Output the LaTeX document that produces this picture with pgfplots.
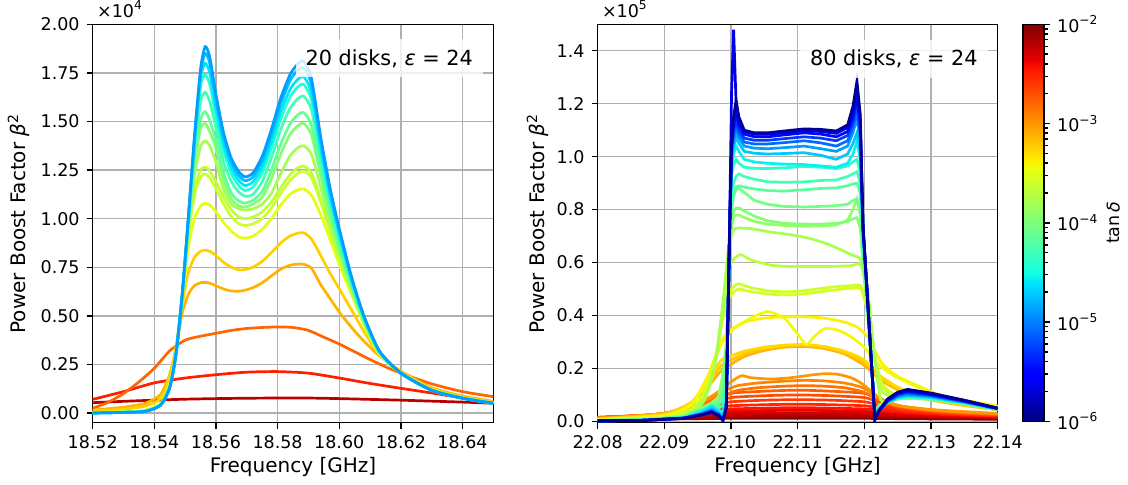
\documentclass[border=0pt]{standalone}
\usepackage{pgfplots}
\pgfplotsset{compat=1.18}
\usepackage{pgfplotstable}
\usepackage{fontspec}
\setmainfont{DejaVu Sans}
\newcommand{\fs}{\fontsize{8.75}{10}\selectfont}
\newcommand{\fl}{\fontsize{10.4}{12}\selectfont}
\definecolor{gridc}{HTML}{B0B0B0}
\pgfplotsset{colormap={mpljet}{rgb(0cm)=(0,0,0.5); rgb(1.1cm)=(0,0,1); rgb(1.25cm)=(0,0,1); rgb(3.4cm)=(0,0.86,1); rgb(3.5cm)=(0,0.9,0.968); rgb(3.75cm)=(0.081,1,0.887); rgb(6.4cm)=(0.935,1,0.032); rgb(6.5cm)=(0.968,0.963,0); rgb(6.6cm)=(1,0.926,0); rgb(8.9cm)=(1,0.074,0); rgb(9.1cm)=(0.909,0,0); rgb(10cm)=(0.5,0,0)}}
\pgfkeys{/pgf/number format/assume math mode=true}
\pgfplotsset{
  base/.style={scale only axis, anchor=south west,
    grid=major, grid style={line width=0.7pt, gridc},
    axis line style={line width=0.7pt},
    tick align=outside, xtick pos=bottom, ytick pos=left,
    major tick length=3pt, tick style={line width=0.7pt, black},
    tick label style={font=\fs}, label style={font=\fs},
    every axis x label/.style={at={(axis description cs:0.5,-0.111)}, anchor=center},
    scaled ticks=false, colormap name=mpljet,
    /pgf/number format/assume math mode=true,
    every axis plot/.append style={line width=1.35pt},
    xticklabel style={/pgf/number format/.cd, fixed, fixed zerofill, precision=2}},
}

% ---------- left panel: 20 disks (units of 1e4) ----------
\pgfplotstableread{
x A B C D E F G H I J K L M
18.520 0.000 0.000 0.000 0.000 0.001 0.001 0.001 0.001 0.001 0.001 0.002 0.010 0.015
18.530 0.003 0.003 0.003 0.003 0.003 0.004 0.004 0.004 0.005 0.005 0.006 0.020 0.030
18.537 0.008 0.008 0.008 0.009 0.009 0.010 0.010 0.011 0.012 0.012 0.014 0.035 0.050
18.542 0.040 0.040 0.040 0.040 0.041 0.042 0.043 0.044 0.046 0.047 0.050 0.075 0.095
18.545 0.130 0.130 0.131 0.132 0.133 0.135 0.137 0.139 0.141 0.143 0.150 0.190 0.200
18.547 0.300 0.300 0.300 0.301 0.302 0.303 0.304 0.305 0.306 0.307 0.310 0.340 0.330
18.549 0.600 0.600 0.600 0.600 0.599 0.598 0.597 0.595 0.592 0.590 0.580 0.550 0.510
18.551 1.000 0.995 0.990 0.980 0.970 0.960 0.950 0.930 0.920 0.910 0.850 0.720 0.610
18.553 1.420 1.410 1.390 1.370 1.340 1.310 1.280 1.220 1.150 1.120 1.000 0.800 0.655
18.555 1.770 1.750 1.720 1.680 1.600 1.510 1.460 1.370 1.250 1.215 1.065 0.832 0.670
18.5565 1.885 1.850 1.800 1.740 1.650 1.550 1.490 1.400 1.265 1.230 1.079 0.838 0.672
18.558 1.830 1.797 1.748 1.690 1.600 1.505 1.446 1.375 1.245 1.210 1.070 0.832 0.668
18.560 1.640 1.610 1.572 1.530 1.470 1.400 1.363 1.290 1.190 1.155 1.035 0.810 0.655
18.5625 1.440 1.415 1.382 1.350 1.290 1.235 1.197 1.150 1.110 1.075 0.980 0.775 0.638
18.565 1.310 1.290 1.262 1.232 1.190 1.130 1.100 1.075 1.045 1.010 0.935 0.750 0.628
18.5675 1.240 1.220 1.194 1.168 1.135 1.090 1.065 1.050 1.008 0.973 0.905 0.737 0.627
18.5695 1.215 1.195 1.170 1.145 1.115 1.080 1.060 1.045 1.000 0.965 0.900 0.738 0.632
18.572 1.235 1.214 1.189 1.163 1.125 1.095 1.075 1.050 1.008 0.973 0.910 0.750 0.645
18.575 1.320 1.296 1.265 1.236 1.190 1.140 1.110 1.075 1.035 1.000 0.945 0.780 0.670
18.578 1.460 1.434 1.396 1.364 1.314 1.250 1.205 1.130 1.085 1.055 1.000 0.825 0.705
18.581 1.620 1.590 1.549 1.513 1.458 1.383 1.333 1.231 1.160 1.130 1.070 0.875 0.740
18.584 1.740 1.709 1.664 1.625 1.566 1.486 1.432 1.322 1.225 1.195 1.125 0.910 0.760
18.5865 1.795 1.763 1.716 1.677 1.616 1.533 1.477 1.364 1.260 1.233 1.148 0.925 0.766
18.5885 1.810 1.775 1.730 1.690 1.630 1.545 1.490 1.375 1.270 1.245 1.152 0.927 0.765
18.591 1.720 1.690 1.647 1.612 1.560 1.480 1.430 1.330 1.235 1.210 1.120 0.895 0.745
18.594 1.420 1.396 1.365 1.340 1.310 1.250 1.220 1.160 1.100 1.085 1.020 0.810 0.660
18.597 1.160 1.142 1.120 1.100 1.080 1.040 1.020 0.980 0.950 0.935 0.895 0.720 0.590
18.600 0.950 0.938 0.923 0.910 0.890 0.860 0.845 0.820 0.800 0.790 0.765 0.640 0.520
18.604 0.700 0.695 0.686 0.680 0.670 0.655 0.648 0.640 0.625 0.620 0.610 0.530 0.440
18.608 0.500 0.498 0.494 0.490 0.485 0.480 0.476 0.472 0.465 0.462 0.455 0.420 0.370
18.613 0.320 0.319 0.318 0.316 0.315 0.313 0.312 0.311 0.310 0.310 0.305 0.300 0.295
18.620 0.205 0.205 0.205 0.205 0.205 0.205 0.205 0.205 0.205 0.205 0.205 0.210 0.215
18.630 0.117 0.117 0.117 0.117 0.117 0.118 0.118 0.118 0.118 0.119 0.120 0.125 0.130
18.640 0.076 0.076 0.076 0.076 0.076 0.077 0.077 0.077 0.077 0.077 0.078 0.082 0.087
18.650 0.050 0.050 0.050 0.050 0.050 0.051 0.051 0.051 0.051 0.051 0.052 0.055 0.060
}\lefttab

% ---------- right panel: 80 disks (units of 1e5), low-loss band curves ----------
\pgfplotstableread{
x c1 c2 c3 c4 c5 c6 c7 c8 c9 c10 c11 c12 c13 c14
22.0800 0.002 0.002 0.002 0.002 0.002 0.002 0.002 0.003 0.003 0.003 0.003 0.003 0.003 0.003
22.0870 0.004 0.004 0.004 0.004 0.004 0.004 0.005 0.005 0.005 0.005 0.006 0.006 0.006 0.006
22.0930 0.012 0.012 0.012 0.012 0.012 0.013 0.013 0.014 0.015 0.016 0.017 0.018 0.019 0.020
22.0955 0.024 0.024 0.025 0.026 0.027 0.028 0.030 0.035 0.040 0.040 0.042 0.045 0.048 0.050
22.0971 0.034 0.034 0.036 0.038 0.040 0.045 0.050 0.060 0.055 0.050 0.055 0.060 0.065 0.070
22.0981 0.022 0.022 0.024 0.026 0.028 0.030 0.035 0.040 0.045 0.050 0.060 0.070 0.080 0.090
22.0988 0.003 0.004 0.005 0.006 0.008 0.010 0.015 0.020 0.030 0.060 0.090 0.120 0.150 0.180
22.0993 0.050 0.050 0.050 0.050 0.050 0.060 0.070 0.080 0.100 0.150 0.200 0.250 0.280 0.300
22.0998 0.720 0.750 0.720 0.720 0.720 0.720 0.720 0.720 0.700 0.680 0.660 0.640 0.620 0.600
22.1001 1.050 1.250 1.040 1.030 1.020 1.010 1.000 0.970 0.930 0.860 0.820 0.800 0.760 0.740
22.1004 1.150 1.480 1.120 1.100 1.080 1.060 1.040 1.010 0.970 0.900 0.860 0.850 0.795 0.770
22.10075 1.210 1.220 1.160 1.130 1.110 1.090 1.070 1.040 0.990 0.925 0.885 0.875 0.805 0.780
22.1012 1.150 1.130 1.120 1.100 1.085 1.070 1.050 1.020 0.975 0.935 0.890 0.880 0.806 0.780
22.1020 1.100 1.095 1.085 1.070 1.055 1.040 1.020 0.990 0.960 0.925 0.885 0.865 0.795 0.770
22.1035 1.090 1.085 1.075 1.062 1.048 1.032 1.013 0.980 0.956 0.915 0.878 0.835 0.775 0.755
22.1055 1.090 1.085 1.075 1.062 1.048 1.030 1.010 0.975 0.955 0.905 0.872 0.820 0.758 0.745
22.1080 1.097 1.090 1.082 1.068 1.053 1.034 1.012 0.972 0.958 0.903 0.870 0.812 0.748 0.740
22.1110 1.105 1.098 1.090 1.075 1.060 1.040 1.015 0.970 0.963 0.905 0.875 0.810 0.745 0.737
22.1135 1.103 1.095 1.085 1.070 1.052 1.030 1.005 0.965 0.960 0.910 0.880 0.812 0.745 0.738
22.1158 1.097 1.088 1.075 1.060 1.040 1.020 0.990 0.960 0.955 0.912 0.882 0.815 0.748 0.742
22.1175 1.120 1.110 1.095 1.080 1.060 1.040 1.010 0.975 0.965 0.925 0.890 0.820 0.755 0.760
22.1183 1.190 1.170 1.150 1.130 1.110 1.090 1.050 1.010 0.980 0.935 0.897 0.835 0.765 0.800
22.1189 1.285 1.260 1.230 1.200 1.170 1.146 1.090 1.057 0.990 0.943 0.900 0.840 0.770 0.840
22.1194 1.160 1.140 1.120 1.100 1.080 1.060 1.020 0.990 0.940 0.900 0.860 0.800 0.730 0.780
22.1198 0.740 0.740 0.740 0.740 0.730 0.730 0.720 0.710 0.700 0.690 0.670 0.640 0.600 0.600
22.1204 0.500 0.500 0.500 0.500 0.500 0.500 0.490 0.490 0.480 0.480 0.470 0.460 0.440 0.440
22.1210 0.250 0.250 0.250 0.250 0.250 0.250 0.250 0.250 0.250 0.250 0.240 0.240 0.240 0.240
22.1216 0.005 0.008 0.010 0.012 0.015 0.018 0.020 0.022 0.025 0.028 0.030 0.032 0.035 0.038
22.1222 0.040 0.040 0.040 0.040 0.042 0.044 0.046 0.048 0.050 0.052 0.054 0.056 0.058 0.060
22.1235 0.085 0.083 0.080 0.078 0.076 0.075 0.074 0.073 0.072 0.072 0.072 0.072 0.073 0.074
22.1250 0.110 0.108 0.105 0.102 0.098 0.095 0.092 0.090 0.088 0.087 0.086 0.085 0.085 0.085
22.1265 0.121 0.118 0.114 0.110 0.106 0.102 0.098 0.096 0.094 0.092 0.090 0.089 0.088 0.088
22.1300 0.107 0.105 0.102 0.100 0.097 0.095 0.092 0.090 0.088 0.087 0.085 0.084 0.083 0.083
22.1350 0.080 0.079 0.077 0.076 0.075 0.074 0.072 0.071 0.070 0.070 0.069 0.068 0.068 0.068
22.1400 0.050 0.050 0.049 0.049 0.048 0.048 0.047 0.047 0.046 0.046 0.046 0.045 0.045 0.045
}\bandtab

% ---------- right panel: high-loss flat curves ----------
\pgfplotstableread{
x o4 o5 o6 o7 r1 r2 r3 r4 r5 r6
22.080 0.014 0.015 0.015 0.015 0.014 0.013 0.012 0.011 0.009 0.007
22.088 0.025 0.025 0.024 0.023 0.021 0.019 0.017 0.014 0.011 0.008
22.094 0.045 0.043 0.040 0.036 0.032 0.027 0.022 0.018 0.013 0.010
22.098 0.080 0.072 0.062 0.052 0.043 0.035 0.028 0.021 0.016 0.011
22.100 0.106 0.090 0.074 0.059 0.047 0.038 0.030 0.023 0.017 0.0115
22.105 0.114 0.097 0.080 0.063 0.050 0.041 0.032 0.024 0.0175 0.012
22.110 0.118 0.100 0.082 0.065 0.052 0.042 0.033 0.025 0.018 0.012
22.115 0.114 0.097 0.080 0.063 0.050 0.041 0.032 0.024 0.0175 0.012
22.120 0.106 0.090 0.074 0.059 0.047 0.038 0.030 0.023 0.017 0.0115
22.122 0.085 0.075 0.063 0.052 0.043 0.035 0.028 0.021 0.016 0.011
22.126 0.055 0.050 0.045 0.040 0.034 0.029 0.024 0.019 0.014 0.010
22.132 0.038 0.035 0.032 0.029 0.026 0.022 0.019 0.016 0.012 0.009
22.140 0.027 0.025 0.023 0.021 0.019 0.017 0.015 0.013 0.010 0.008
}\flattab

\begin{document}
\begin{tikzpicture}
%================ LEFT =================
\begin{axis}[base, name=L, at={(46.35pt,30.65pt)}, width=200.3pt, height=199.2pt,
  xmin=18.52, xmax=18.65, ymin=-0.05, ymax=2.0,
  xtick={18.52,18.54,18.56,18.58,18.60,18.62,18.64},
  ytick={0,0.25,0.5,0.75,1,1.25,1.5,1.75,2},
  yticklabel style={/pgf/number format/.cd, fixed, fixed zerofill, precision=2},
  xlabel={Frequency [GHz]},
  ylabel={Power Boost Factor \textit{β}\textsuperscript{2}},
  every axis y label/.style={at={(axis description cs:-0.185,0.5)}, rotate=90, anchor=center},
]
\addplot[color of colormap=950, smooth, tension=0.4] coordinates {(18.52,0.053) (18.53,0.06) (18.54,0.066) (18.55,0.071) (18.56,0.074) (18.57,0.076) (18.58,0.077) (18.59,0.077) (18.60,0.074) (18.61,0.07) (18.62,0.066) (18.63,0.061) (18.64,0.056) (18.65,0.05)};
\addplot[color of colormap=877, smooth, tension=0.4] coordinates {(18.52,0.07) (18.53,0.11) (18.54,0.155) (18.55,0.18) (18.56,0.197) (18.57,0.21) (18.58,0.213) (18.59,0.205) (18.60,0.18) (18.61,0.152) (18.62,0.127) (18.63,0.103) (18.64,0.078) (18.65,0.058)};
\addplot[color of colormap=803, smooth, tension=0.4] coordinates {(18.52,0.024) (18.525,0.055) (18.53,0.10) (18.535,0.16) (18.54,0.23) (18.545,0.32) (18.55,0.375) (18.555,0.395) (18.56,0.41) (18.565,0.425) (18.57,0.435) (18.575,0.44) (18.58,0.443) (18.585,0.44) (18.59,0.425) (18.595,0.39) (18.60,0.355) (18.605,0.315) (18.61,0.275) (18.615,0.238) (18.62,0.205) (18.63,0.15) (18.64,0.11) (18.65,0.084)};
\addplot[color of colormap=720, smooth, tension=0.4] table[x=x,y=M] {\lefttab};
\addplot[color of colormap=690, smooth, tension=0.4] table[x=x,y=L] {\lefttab};
\addplot[color of colormap=630, smooth, tension=0.4] table[x=x,y=K] {\lefttab};
\addplot[color of colormap=600, smooth, tension=0.4] table[x=x,y=J] {\lefttab};
\addplot[color of colormap=580, smooth, tension=0.4] table[x=x,y=I] {\lefttab};
\addplot[color of colormap=550, smooth, tension=0.4] table[x=x,y=H] {\lefttab};
\addplot[color of colormap=510, smooth, tension=0.4] table[x=x,y=G] {\lefttab};
\addplot[color of colormap=470, smooth, tension=0.4] table[x=x,y=F] {\lefttab};
\addplot[color of colormap=430, smooth, tension=0.4] table[x=x,y=E] {\lefttab};
\addplot[color of colormap=390, smooth, tension=0.4] table[x=x,y=D] {\lefttab};
\addplot[color of colormap=350, smooth, tension=0.4] table[x=x,y=C] {\lefttab};
\addplot[color of colormap=310, smooth, tension=0.4] table[x=x,y=B] {\lefttab};
\addplot[color of colormap=280, smooth, tension=0.4] table[x=x,y=A] {\lefttab};
\node[anchor=north east, fill=white, fill opacity=0.8, text opacity=1, inner xsep=5pt, inner ysep=0pt, minimum height=19pt, font=\fl, xshift=-5pt, yshift=-7.35pt] at (rel axis cs:1,1) {20 disks, \textit{ε} = 24};
\end{axis}
\node[anchor=base west, inner sep=0pt, font=\fs, xshift=2pt, yshift=3.6pt] at (L.north west) {×10\textsuperscript{4}};

%================ RIGHT =================
\begin{axis}[base, name=R, at={(298.8pt,30.65pt)}, width=200pt, height=199.2pt,
  xmin=22.08, xmax=22.14, ymin=-0.005, ymax=1.5,
  xtick={22.08,22.09,22.10,22.11,22.12,22.13,22.14},
  ytick={0,0.2,0.4,0.6,0.8,1.0,1.2,1.4},
  yticklabel style={/pgf/number format/.cd, fixed, fixed zerofill, precision=1},
  xlabel={Frequency [GHz]},
  ylabel={Power Boost Factor \textit{β}\textsuperscript{2}},
  every axis y label/.style={at={(axis description cs:-0.150,0.5)}, rotate=90, anchor=center},
  colorbar, point meta min=-6, point meta max=-2,
  colorbar style={at={(parent axis.north east)}, anchor=north west, xshift=4.2pt,
    scale only axis, width=10.5pt, height=198.5pt,
    axis line style={line width=0.7pt},
    ytick={-6,-5,-4,-3,-2},
    yticklabels={10\textsuperscript{−6},10\textsuperscript{−5},10\textsuperscript{−4},10\textsuperscript{−3},10\textsuperscript{−2}},
    minor ytick={-5.699,-5.523,-5.398,-5.301,-5.222,-5.155,-5.097,-5.046,-4.699,-4.523,-4.398,-4.301,-4.222,-4.155,-4.097,-4.046,-3.699,-3.523,-3.398,-3.301,-3.222,-3.155,-3.097,-3.046,-2.699,-2.523,-2.398,-2.301,-2.222,-2.155,-2.097,-2.046},
    ytick pos=right, yticklabel pos=right, tick align=outside,
    major tick length=3pt, minor tick length=1.75pt,
    tick style={line width=0.7pt, black},
    tick label style={font=\fs},
    ylabel={tan\,\textit{δ}},
    every axis y label/.style={at={(axis description cs:4.29,0.5)}, rotate=90, anchor=center, font=\fs}},
]
% high-loss (red/orange)
\addplot[color of colormap=990, smooth, tension=0.4] table[x=x,y=r6] {\flattab};
\addplot[color of colormap=970, smooth, tension=0.4] table[x=x,y=r5] {\flattab};
\addplot[color of colormap=950, smooth, tension=0.4] table[x=x,y=r4] {\flattab};
\addplot[color of colormap=930, smooth, tension=0.4] table[x=x,y=r3] {\flattab};
\addplot[color of colormap=910, smooth, tension=0.4] table[x=x,y=r2] {\flattab};
\addplot[color of colormap=890, smooth, tension=0.4] table[x=x,y=r1] {\flattab};
\addplot[color of colormap=870, smooth, tension=0.4] table[x=x,y=o7] {\flattab};
\addplot[color of colormap=850, smooth, tension=0.4] table[x=x,y=o6] {\flattab};
\addplot[color of colormap=830, smooth, tension=0.4] table[x=x,y=o5] {\flattab};
\addplot[color of colormap=810, smooth, tension=0.4] table[x=x,y=o4] {\flattab};
\addplot[color of colormap=790, smooth, tension=0.4] coordinates {(22.080,0.014) (22.086,0.021) (22.09,0.03) (22.093,0.048) (22.096,0.068) (22.098,0.088) (22.0995,0.104) (22.101,0.117) (22.104,0.127) (22.108,0.133) (22.111,0.135) (22.114,0.133) (22.117,0.127) (22.1195,0.114) (22.121,0.098) (22.1225,0.078) (22.125,0.058) (22.13,0.041) (22.135,0.033) (22.14,0.027)};
\addplot[color of colormap=770, smooth, tension=0.4] coordinates {(22.080,0.013) (22.086,0.02) (22.09,0.03) (22.093,0.05) (22.096,0.075) (22.098,0.10) (22.0995,0.12) (22.101,0.135) (22.104,0.145) (22.108,0.152) (22.111,0.155) (22.114,0.153) (22.117,0.145) (22.1195,0.13) (22.121,0.11) (22.1225,0.085) (22.125,0.06) (22.13,0.043) (22.135,0.035) (22.14,0.029)};
\addplot[color of colormap=750, smooth, tension=0.4] coordinates {(22.080,0.012) (22.086,0.02) (22.09,0.03) (22.093,0.05) (22.096,0.08) (22.098,0.11) (22.0995,0.14) (22.1015,0.172) (22.103,0.165) (22.106,0.16) (22.109,0.165) (22.112,0.175) (22.114,0.18) (22.116,0.178) (22.118,0.165) (22.1195,0.145) (22.121,0.115) (22.1225,0.085) (22.125,0.06) (22.13,0.045) (22.135,0.037) (22.14,0.03)};
% medium loss
\addplot[color of colormap=720, smooth, tension=0.4] coordinates {(22.080,0.01) (22.09,0.03) (22.094,0.07) (22.0965,0.13) (22.0985,0.19) (22.1003,0.22) (22.102,0.245) (22.105,0.268) (22.108,0.28) (22.111,0.283) (22.114,0.275) (22.117,0.255) (22.1195,0.22) (22.121,0.19) (22.1225,0.155) (22.125,0.12) (22.128,0.094) (22.131,0.076) (22.135,0.06) (22.140,0.044)};
\addplot[color of colormap=700, smooth, tension=0.4] coordinates {(22.080,0.009) (22.09,0.028) (22.094,0.07) (22.0965,0.14) (22.0985,0.21) (22.1003,0.235) (22.102,0.255) (22.105,0.275) (22.108,0.285) (22.111,0.288) (22.114,0.28) (22.117,0.26) (22.1195,0.23) (22.121,0.20) (22.1225,0.16) (22.125,0.125) (22.128,0.097) (22.131,0.078) (22.135,0.062) (22.140,0.045)};
\addplot[color of colormap=680, smooth, tension=0.4] coordinates {(22.080,0.008) (22.09,0.026) (22.094,0.07) (22.0965,0.15) (22.0985,0.23) (22.1003,0.25) (22.102,0.265) (22.105,0.28) (22.108,0.288) (22.111,0.29) (22.114,0.283) (22.117,0.265) (22.1195,0.24) (22.121,0.21) (22.1225,0.17) (22.125,0.13) (22.128,0.10) (22.131,0.08) (22.135,0.063) (22.140,0.045)};
\addplot[color of colormap=655, smooth, tension=0.4] coordinates {(22.080,0.007) (22.09,0.022) (22.094,0.065) (22.0965,0.17) (22.0985,0.30) (22.1000,0.345) (22.102,0.375) (22.105,0.39) (22.108,0.395) (22.111,0.395) (22.114,0.39) (22.117,0.375) (22.1190,0.355) (22.1205,0.32) (22.1215,0.27) (22.1228,0.215) (22.125,0.17) (22.128,0.135) (22.1313,0.10) (22.135,0.08) (22.140,0.058)};
\addplot[color of colormap=645, smooth, tension=0.4] coordinates {(22.080,0.006) (22.09,0.02) (22.094,0.06) (22.0965,0.16) (22.0985,0.29) (22.1000,0.34) (22.101,0.36) (22.103,0.39) (22.1055,0.415) (22.108,0.39) (22.1100,0.33) (22.1113,0.29) (22.1125,0.32) (22.114,0.35) (22.116,0.345) (22.118,0.32) (22.1200,0.28) (22.1212,0.24) (22.1228,0.20) (22.125,0.165) (22.128,0.13) (22.1313,0.099) (22.135,0.08) (22.140,0.058)};
\addplot[color of colormap=610, smooth, tension=0.4] coordinates {(22.080,0.005) (22.09,0.016) (22.094,0.045) (22.096,0.11) (22.0975,0.22) (22.0988,0.39) (22.0996,0.46) (22.1005,0.49) (22.1012,0.50) (22.103,0.49) (22.106,0.48) (22.109,0.478) (22.112,0.485) (22.115,0.495) (22.118,0.503) (22.1195,0.50) (22.1205,0.41) (22.1215,0.26) (22.1225,0.15) (22.124,0.11) (22.126,0.096) (22.130,0.085) (22.135,0.067) (22.140,0.045)};
\addplot[color of colormap=600, smooth, tension=0.4] coordinates {(22.080,0.005) (22.09,0.015) (22.094,0.04) (22.096,0.1) (22.0975,0.21) (22.0988,0.40) (22.0996,0.48) (22.1005,0.51) (22.1012,0.52) (22.103,0.505) (22.106,0.492) (22.109,0.49) (22.112,0.497) (22.115,0.507) (22.118,0.513) (22.1195,0.51) (22.1205,0.42) (22.1215,0.26) (22.1225,0.14) (22.124,0.105) (22.126,0.095) (22.130,0.085) (22.135,0.067) (22.140,0.045)};
\addplot[color of colormap=575, smooth, tension=0.4] coordinates {(22.080,0.004) (22.09,0.012) (22.094,0.035) (22.096,0.09) (22.0975,0.2) (22.0988,0.42) (22.0996,0.57) (22.1005,0.615) (22.1015,0.63) (22.103,0.61) (22.106,0.59) (22.109,0.585) (22.112,0.585) (22.115,0.585) (22.118,0.588) (22.1195,0.59) (22.1205,0.47) (22.1215,0.26) (22.1225,0.12) (22.124,0.095) (22.126,0.093) (22.130,0.086) (22.135,0.068) (22.140,0.046)};
\addplot[color of colormap=555, smooth, tension=0.4] coordinates {(22.080,0.003) (22.09,0.01) (22.094,0.03) (22.096,0.08) (22.0975,0.2) (22.0988,0.45) (22.0996,0.65) (22.1003,0.72) (22.101,0.73) (22.103,0.728) (22.106,0.715) (22.109,0.705) (22.112,0.69) (22.115,0.665) (22.118,0.63) (22.1195,0.61) (22.1205,0.50) (22.1215,0.25) (22.1225,0.08) (22.124,0.085) (22.126,0.092) (22.130,0.088) (22.135,0.069) (22.140,0.046)};
% low loss (band)
\addplot[color of colormap=530] table[x=x,y=c14] {\bandtab};
\addplot[color of colormap=510] table[x=x,y=c13] {\bandtab};
\addplot[color of colormap=490] table[x=x,y=c12] {\bandtab};
\addplot[color of colormap=460] table[x=x,y=c11] {\bandtab};
\addplot[color of colormap=430] table[x=x,y=c10] {\bandtab};
\addplot[color of colormap=400] table[x=x,y=c9] {\bandtab};
\addplot[color of colormap=360] table[x=x,y=c8] {\bandtab};
\addplot[color of colormap=320] table[x=x,y=c7] {\bandtab};
\addplot[color of colormap=280] table[x=x,y=c6] {\bandtab};
\addplot[color of colormap=230] table[x=x,y=c5] {\bandtab};
\addplot[color of colormap=180] table[x=x,y=c4] {\bandtab};
\addplot[color of colormap=130] table[x=x,y=c3] {\bandtab};
\addplot[color of colormap=90] table[x=x,y=c2] {\bandtab};
\addplot[color of colormap=20] table[x=x,y=c1] {\bandtab};
\node[anchor=north east, fill=white, fill opacity=0.8, text opacity=1, inner xsep=5pt, inner ysep=0pt, minimum height=19pt, font=\fl, xshift=-4.85pt, yshift=-7.75pt] at (rel axis cs:1,1) {80 disks, \textit{ε} = 24};
\end{axis}
\node[anchor=base west, inner sep=0pt, font=\fs, xshift=2pt, yshift=3.6pt] at (R.north west) {×10\textsuperscript{5}};
\pgfresetboundingbox
\useasboundingbox (0,0) rectangle (564pt,242pt);
\end{tikzpicture}
\end{document}
